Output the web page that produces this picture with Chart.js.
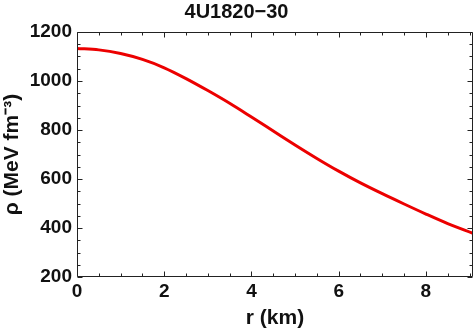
<!DOCTYPE html>
<html>
<head>
<meta charset="utf-8">
<script src="https://cdn.jsdelivr.net/npm/chart.js@4"></script>
<style>
  html, body { margin: 0; padding: 0; background: #fff; }
  #wrap { width: 474px; height: 331px; }
</style>
</head>
<body>
<div id="wrap"><canvas id="rho" width="474" height="331"></canvas></div>
<script>
// radius (km) and energy density (MeV fm^-3)
const radius = [0, 0.5, 1, 1.5, 2, 2.5, 3, 3.5, 4, 4.5, 5, 5.5, 6, 6.5, 7, 7.5, 8, 8.5, 9.08];
const density = [1133, 1127, 1112, 1088, 1054, 1010, 961, 909, 853, 796, 739, 684, 632, 584, 540, 498, 457, 418, 378];

const xMin = 0, xMax = 9.08, xStep = 2, xMinor = 0.5;
const yMin = 200, yMax = 1200, yStep = 200, yMinor = 50;

const FONT = 'Liberation Sans, Arial, sans-serif';
const INK = '#111';

// frame + inward ticks on all four sides, like the original plot
const frameTicks = {
  id: 'frameTicks',
  afterDatasetsDraw(chart) {
    const ctx = chart.ctx;
    const a = chart.chartArea;
    const xs = chart.scales.x, ys = chart.scales.y;
    const L = Math.round(a.left) + 0.5, R = Math.round(a.right) - 0.5;
    const T = Math.round(a.top) + 0.5, B = Math.round(a.bottom) - 0.5;
    ctx.save();
    ctx.strokeStyle = '#222';
    ctx.lineWidth = 1;
    ctx.beginPath();
    ctx.moveTo(L, T); ctx.lineTo(R, T);
    ctx.lineTo(R, B); ctx.lineTo(L, B); ctx.lineTo(L, T);
    for (let i = 0; xMin + i * xMinor <= xMax + 1e-6; i++) {
      const px = Math.round(xs.getPixelForValue(xMin + i * xMinor)) + 0.5;
      const len = (i % 4 === 0) ? 5 : 3;
      ctx.moveTo(px, B); ctx.lineTo(px, B - len);
      ctx.moveTo(px, T); ctx.lineTo(px, T + len);
    }
    for (let i = 0; yMin + i * yMinor <= yMax + 1e-6; i++) {
      const py = Math.round(ys.getPixelForValue(yMin + i * yMinor)) + 0.5;
      const len = (i % 4 === 0) ? 5 : 3;
      ctx.moveTo(L, py); ctx.lineTo(L + len, py);
      ctx.moveTo(R, py); ctx.lineTo(R - len, py);
    }
    ctx.stroke();
    ctx.restore();
  }
};

new Chart(document.getElementById('rho'), {
  type: 'line',
  data: {
    datasets: [{
      data: radius.map((r, i) => ({ x: r, y: density[i] })),
      borderColor: 'rgb(236,0,0)',
      borderWidth: 3,
      pointRadius: 0,
      cubicInterpolationMode: 'monotone',
      fill: false
    }]
  },
  options: {
    responsive: false,
    animation: false,
    layout: { padding: { top: 0, right: 1, left: 0, bottom: 0 } },
    plugins: {
      legend: { display: false },
      tooltip: { enabled: false },
      title: {
        display: true,
        text: '4U1820\u221230',
        color: INK,
        font: { family: FONT, size: 20, weight: 'bold' },
        padding: { top: 0, bottom: 8 }
      }
    },
    scales: {
      x: {
        type: 'linear',
        min: xMin, max: xMax,
        grid: { display: false, drawTicks: false },
        border: { display: false },
        ticks: {
          stepSize: xStep, includeBounds: false, padding: 3,
          color: INK, font: { family: FONT, size: 19, weight: 'bold' },
          callback: v => String(v)
        },
        title: {
          display: true, text: 'r (km)', color: INK,
          font: { family: FONT, size: 21, weight: 'bold' },
          padding: { top: 2, bottom: 0 }
        },
        afterFit(s) { s.height = 54; }
      },
      y: {
        type: 'linear',
        min: yMin, max: yMax,
        grid: { display: false, drawTicks: false },
        border: { display: false },
        ticks: {
          stepSize: yStep, padding: 5,
          color: INK, font: { family: FONT, size: 19, weight: 'bold' },
          callback: v => String(v)
        },
        title: {
          display: true, text: '\u03c1 (MeV fm\u207b\u00b3)', color: INK,
          font: { family: FONT, size: 21, weight: 'bold' },
          padding: { top: 0, bottom: 2 }
        },
        afterFit(s) { s.width = 77; }
      }
    }
  },
  plugins: [frameTicks]
});
</script>
</body>
</html>
